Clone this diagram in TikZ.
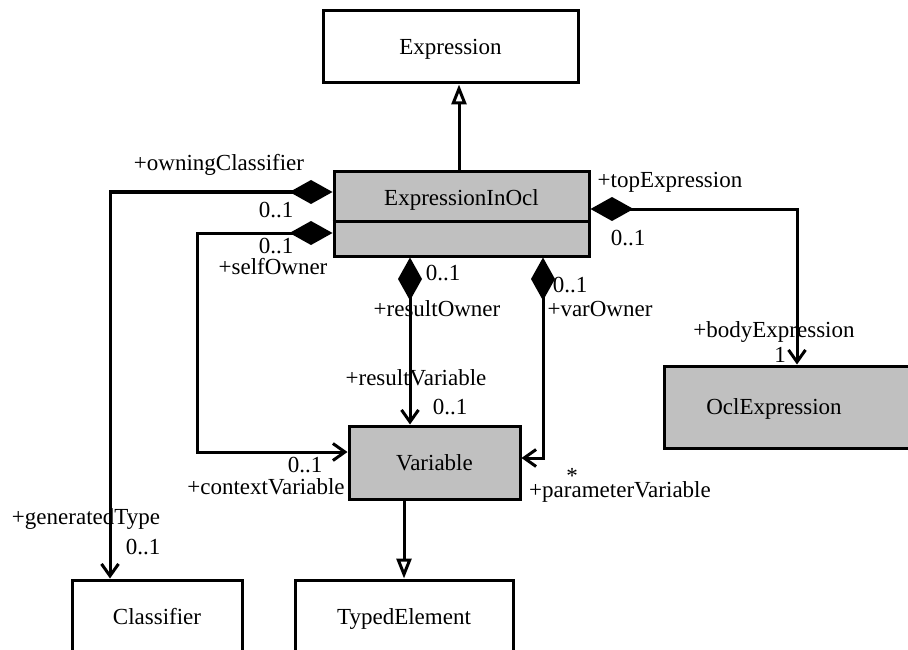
\documentclass[tikz,border=0pt]{standalone}
\usepackage{fontspec}
\setmainfont{Liberation Serif}
\usetikzlibrary{arrows.meta}
\definecolor{umlgray}{RGB}{192,192,192}
\begin{document}
\begin{tikzpicture}[x=1pt,y=-1pt,
  every node/.style={font=\fontsize{23}{27}\selectfont},
  classbox/.style={draw,line width=3pt,rectangle,inner sep=0pt,text height=15pt,text depth=0pt},
  shadedbox/.style={classbox,fill=umlgray},
  role/.style={inner sep=0pt,text height=15pt,text depth=0pt},
  link/.style={line width=3pt},
  comp/.style={link,{Diamond[length=43pt,width=24pt]}-{Straight Barb[length=12pt,width=17pt]}},
  gen/.style={link,-{Triangle[open,length=20pt,width=15pt]}}]
\useasboundingbox (0,0) rectangle (908,650);
\clip (0,0) rectangle (908,650);

% classes
\node[classbox,minimum width=255pt,minimum height=72pt] (expr) at (450.5,47) {Expression};
\node[shadedbox,minimum width=255pt,minimum height=84pt] (eio) at (461.5,214) {};
\node[role] (eiotext) at (461.5,198) {ExpressionInOcl};
\draw[line width=3pt] (eio.west |- 0,221) -- (eio.east |- 0,221);
\node[shadedbox,minimum width=171pt,minimum height=73pt] (var) at (434.5,462.5) {Variable};
\node[shadedbox,minimum width=270pt,minimum height=82pt] (ocl) at (799,407) {};
\node[role] (ocltext) at (774,407) {OclExpression};
\node[classbox,minimum width=170pt,minimum height=74pt] (cls) at (157,617) {Classifier};
\node[classbox,minimum width=218pt,minimum height=74pt] (typed) at (404,617) {TypedElement};

% generalizations
\draw[gen] (eio.north -| 459,0) -- (expr.south -| 459,0);
\draw[gen] (var.south -| 404,0) -- (typed.north -| 404,0);

% compositions
\draw[comp] (eio.west |- 0,192) -| (cls.north -| 110,0);
\draw[comp] (eio.west |- 0,233) -| (197,452) -- (var.west |- 0,452);
\draw[comp] (eio.south -| 410,0) -- (var.north -| 410,0);
\draw[comp] (eio.south -| 543,0) |- (var.east |- 0,458);
\draw[comp] (eio.east |- 0,209) -| (ocl.north -| 797,0);

% role names and multiplicities
\node[role] (r1) at (219,163) {+owningClassifier};
\node[role] (m1) at (276,210) {0..1};
\node[role] (m2) at (276,246) {0..1};
\node[role] (r2) at (273,267) {+selfOwner};
\node[role] (m3) at (443,273) {0..1};
\node[role] (m4) at (570,285) {0..1};
\node[role] (r3) at (437,309) {+resultOwner};
\node[role] (r4) at (600,309) {+varOwner};
\node[role] (r5) at (416,378) {+resultVariable};
\node[role] (m5) at (450,407) {0..1};
\node[role] (r6) at (670,180) {+topExpression};
\node[role] (m6) at (628,238) {0..1};
\node[role] (r7) at (774,330) {+bodyExpression};
\node[role] (m7) at (780,355) {1};
\node[role] (m8) at (305,465) {0..1};
\node[role] (r8) at (266,487) {+contextVariable};
\node[inner sep=0pt,anchor=base] (m9) at (572,483) {*};
\node[role,text height=11pt] (r9) at (620,492) {+parameterVariable};
\node[role] (r10) at (86,517) {+generatedType};
\node[role] (m10) at (143,547) {0..1};
\end{tikzpicture}
\end{document}
